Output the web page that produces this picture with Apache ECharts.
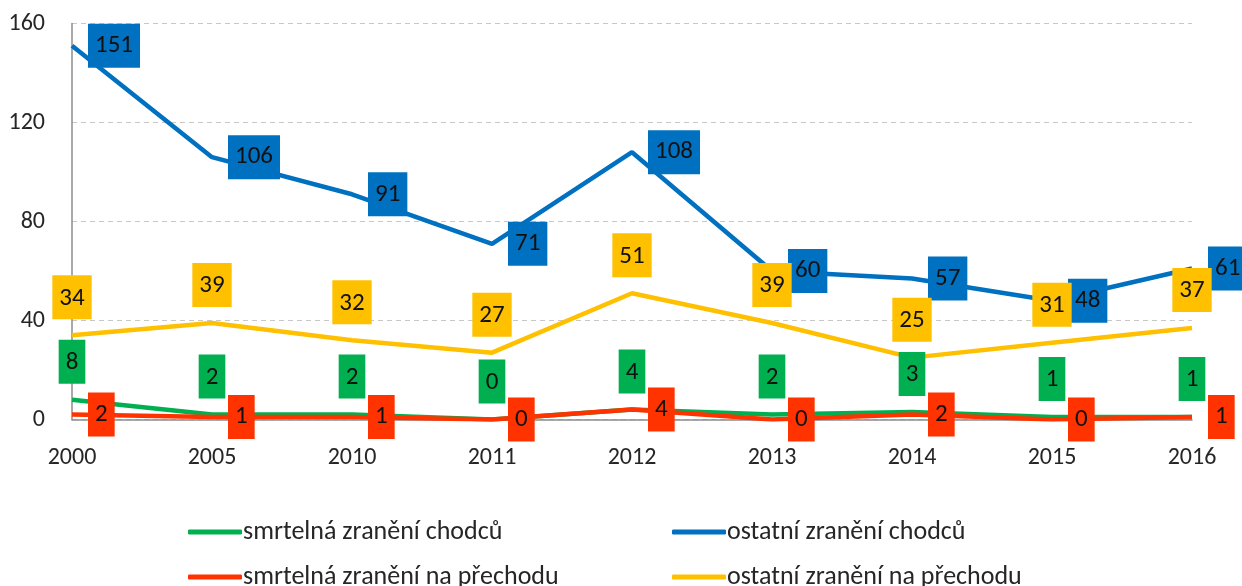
<!DOCTYPE html>
<html>
<head>
<meta charset="utf-8">
<script src="https://cdn.jsdelivr.net/npm/echarts@6/dist/echarts.min.js"></script>
<style>html,body{margin:0;padding:0;background:#fff;}#c{width:1242px;height:586px;}</style>
</head>
<body>
<div id="c"></div>
<script>
const categories = ['2000','2005','2010','2011','2012','2013','2014','2015','2016'];
const smrtelnaChodcu = [8,2,2,0,4,2,3,1,1];
const ostatniChodcu = [151,106,91,71,108,60,57,48,61];
const smrtelnaPrechod = [2,1,1,0,4,0,2,0,1];
const ostatniPrechod = [34,39,32,27,51,39,25,31,37];
const yTicks = {min:0, max:160, interval:40};

const FONT = 'Carlito, Lato, "Open Sans", sans-serif';
const names = ['smrtelná zranění chodců','ostatní zranění chodců','smrtelná zranění na přechodu','ostatní zranění na přechodu'];
const colors = ['#00B050','#0070C0','#FF3300','#FFC000'];

function mk(name, data, color, pos){
  return {
    name, type:'line', data, symbol:'circle', symbolSize:0, showSymbol:true,
    lineStyle:{color, width:4.5},
    itemStyle:{color},
    label:{show:true, position:pos, distance:16, color:'#111', fontFamily:FONT, fontSize:25,
      backgroundColor:color, padding:[9,7,7,7], lineHeight:28},
    emphasis:{disabled:true}, animation:false
  };
}

const legendCommon = {orient:'vertical', top:514, height:90, itemGap:19,
  itemWidth:54, itemHeight:5, icon:'roundRect',
  textStyle:{color:'#262626', fontFamily:FONT, fontSize:26, padding:[0,0,0,-4]}};

const chart = echarts.init(document.getElementById('c'));
chart.setOption({
  animation:false,
  grid:{left:72, right:50, top:23.5, bottom:166.5, containLabel:false},
  xAxis:{type:'category', data:categories, boundaryGap:false,
    axisLine:{lineStyle:{color:'#8c8c8c', width:1.5}}, axisTick:{show:false},
    axisLabel:{color:'#262626', fontFamily:FONT, fontSize:24, margin:26}},
  yAxis:{type:'value', min:yTicks.min, max:yTicks.max, interval:yTicks.interval,
    axisLine:{show:true, lineStyle:{color:'#8c8c8c', width:1.5}}, axisTick:{show:false},
    splitLine:{lineStyle:{color:'#c8c8c8', type:[5,4], width:1}},
    axisLabel:{color:'#262626', fontFamily:FONT, fontSize:24, margin:27}},
  legend:[
    Object.assign({}, legendCommon, {data:[names[0],names[2]], left:183}),
    Object.assign({}, legendCommon, {data:[names[1],names[3]], left:667})
  ],
  series:[
    mk(names[0], smrtelnaChodcu, colors[0], 'top'),
    mk(names[1], ostatniChodcu, colors[1], 'right'),
    mk(names[2], smrtelnaPrechod, colors[2], 'right'),
    mk(names[3], ostatniPrechod, colors[3], 'top')
  ]
});
</script>
</body>
</html>
